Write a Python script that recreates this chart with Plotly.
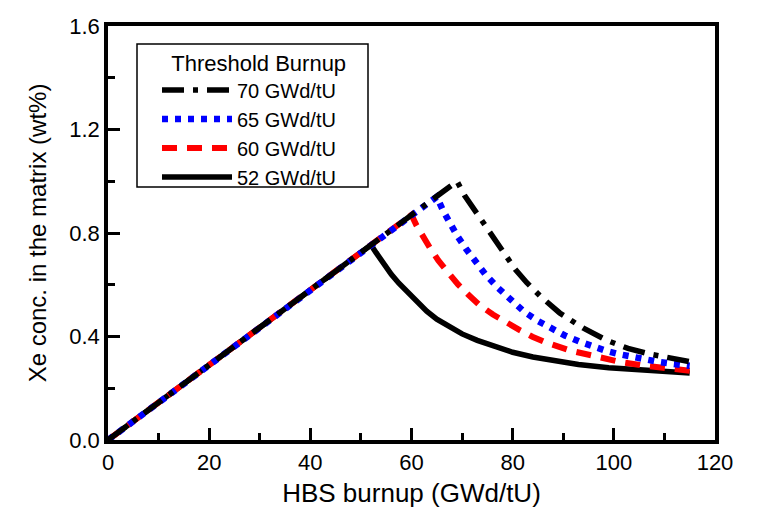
import plotly.graph_objects as go

# ---- data ----
legend_title = "Threshold Burnup"
labels = ["52 GWd/tU", "60 GWd/tU", "65 GWd/tU", "70 GWd/tU"]

x52 = [0, 52, 53, 54, 55, 56, 57.5, 59, 61, 63, 65, 67.5, 70, 73, 76.5, 80, 84, 88, 93, 99, 106, 115]
y52 = [0, 0.754, 0.724, 0.694, 0.667, 0.640, 0.606, 0.575, 0.532, 0.498, 0.467, 0.437, 0.410,
       0.385, 0.360, 0.339, 0.321, 0.306, 0.292, 0.279, 0.268, 0.259]

x60 = [0, 60, 61, 62.2, 63.6, 65.3, 67.2, 69.2, 71.2, 73.6, 76.1, 78.7, 81.4, 83.9, 86.4,
       91.3, 96.2, 101.2, 106.5, 111.7, 115]
y60 = [0, 0.87, 0.829, 0.786, 0.744, 0.694, 0.648, 0.601, 0.562, 0.519, 0.485, 0.453, 0.425,
       0.399, 0.378, 0.346, 0.322, 0.302, 0.286, 0.274, 0.268]

x65 = [0, 65, 66.2, 67.6, 69, 70.8, 72.7, 74.7, 77.1, 79.6, 82.2, 85, 87.7, 90.3, 93.1,
       95.7, 98.4, 101, 103.8, 106.3, 109.1, 111.7, 115]
y65 = [0, 0.94, 0.888, 0.838, 0.790, 0.738, 0.686, 0.638, 0.588, 0.540, 0.497, 0.460, 0.430,
       0.404, 0.381, 0.361, 0.345, 0.332, 0.320, 0.310, 0.301, 0.294, 0.287]

x70 = [0, 69, 70.5, 72.9, 75.5, 78.1, 80.5, 82.8, 85.4, 89.3, 93.9, 98.6, 102.8, 107.1, 111.5, 115]
y70 = [0, 1.0, 0.945, 0.877, 0.797, 0.721, 0.660, 0.608, 0.557, 0.491, 0.433, 0.385, 0.354,
       0.332, 0.316, 0.303]

x_ticks = [0, 20, 40, 60, 80, 100, 120]
y_ticks = [0.0, 0.4, 0.8, 1.2, 1.6]

FONT = "Liberation Sans, Arial, sans-serif"

fig = go.Figure()
fig.add_trace(go.Scatter(x=x52, y=y52, mode="lines", name=labels[0],
                         line=dict(color="black", width=5.5, dash="solid")))
fig.add_trace(go.Scatter(x=x60, y=y60, mode="lines", name=labels[1],
                         line=dict(color="#ff0000", width=6, dash="15px,10px")))
fig.add_trace(go.Scatter(x=x65, y=y65, mode="lines", name=labels[2],
                         line=dict(color="#0000ff", width=6.5, dash="6px,7px")))
fig.add_trace(go.Scatter(x=x70, y=y70, mode="lines", name=labels[3],
                         line=dict(color="black", width=5.5, dash="22px,9px,5px,9px")))

# plot area: x 108..715 px, y 26..440 px
PW, PH = 607.0, 414.0
def px_x(p):
    return (p - 108) / PW
def px_y(p):
    return (440 - p) / PH

fig.update_layout(
    width=759, height=518,
    margin=dict(l=108, r=44, t=26, b=78, autoexpand=False),
    paper_bgcolor="white", plot_bgcolor="white",
    font=dict(family=FONT, color="black", size=22),
    showlegend=True,
    legend=dict(
        title=dict(text="\u00a0\u00a0" + legend_title, font=dict(size=22)),
        traceorder="reversed",
        x=px_x(157), y=px_y(42), xanchor="left", yanchor="top",
        borderwidth=0, bgcolor="rgba(0,0,0,0)",
        font=dict(size=20), itemwidth=70,
    ),
    shapes=[dict(type="rect", xref="paper", yref="paper",
                 x0=px_x(137), x1=px_x(368), y0=px_y(187), y1=px_y(44),
                 line=dict(color="black", width=1.5), fillcolor="rgba(0,0,0,0)", layer="above")],
)

fig.update_xaxes(
    range=[0, 120], tickvals=x_ticks, ticktext=[str(v) for v in x_ticks],
    showgrid=False, zeroline=False,
    showline=True, linecolor="black", linewidth=3.5, mirror=True,
    ticks="inside", ticklen=12, tickwidth=2.5, tickcolor="black",
    minor=dict(dtick=10, tick0=0, ticks="inside", ticklen=7, tickwidth=2.5, tickcolor="black"),
    tickfont=dict(size=22),
    title=dict(text="HBS burnup (GWd/tU)", font=dict(size=26), standoff=11),
)
fig.update_yaxes(
    range=[0, 1.6], tickvals=y_ticks, ticktext=[f"{v:.1f}" for v in y_ticks],
    showgrid=False, zeroline=False,
    showline=True, linecolor="black", linewidth=3.5, mirror=True,
    ticks="inside", ticklen=12, tickwidth=2.5, tickcolor="black",
    minor=dict(dtick=0.2, tick0=0, ticks="inside", ticklen=7, tickwidth=2.5, tickcolor="black"),
    tickfont=dict(size=22),
    title=dict(text="Xe conc. in the matrix (wt%)", font=dict(size=24), standoff=17),
)

fig.write_html("out.html")
